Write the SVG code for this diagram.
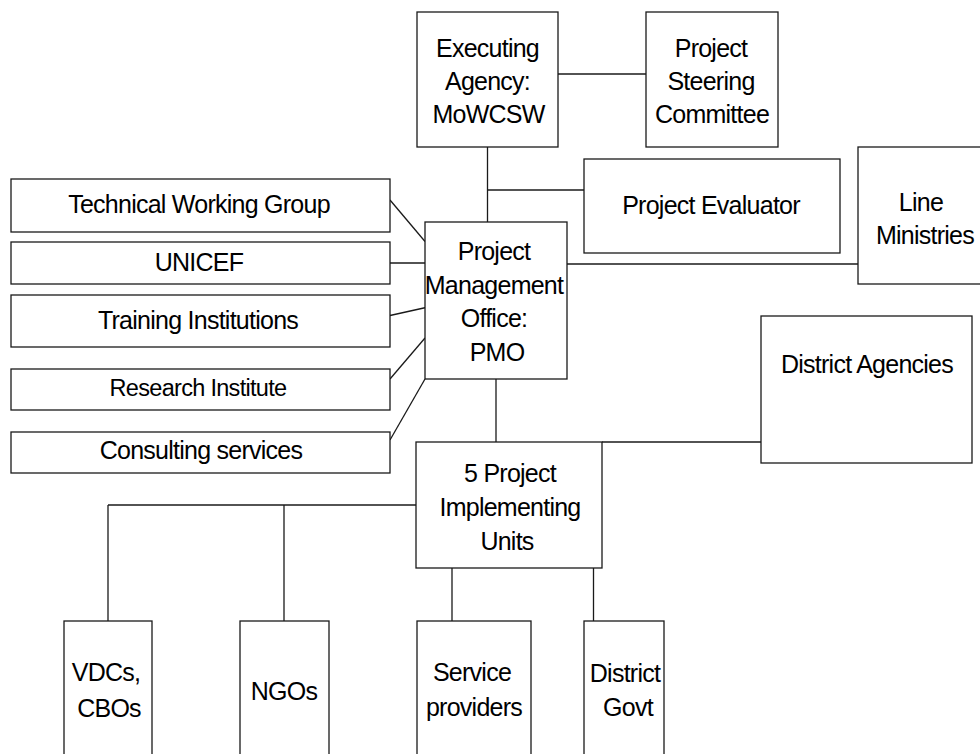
<svg xmlns="http://www.w3.org/2000/svg" width="980" height="754" viewBox="0 0 980 754">
<style>
rect{fill:#fff;stroke:#1a1a1a;stroke-width:1.3}
line{stroke:#1a1a1a;stroke-width:1.3}
text{font-family:"Liberation Sans",Arial,sans-serif;font-size:25px;letter-spacing:-0.75px;fill:#000;text-anchor:middle}
.sm{font-size:23.5px;letter-spacing:-0.7px}
</style>
<rect x="0" y="0" width="980" height="754" style="fill:#fff;stroke:none"/>
<g id="connectors">
<line x1="558" y1="74" x2="646" y2="74"/>
<line x1="487.5" y1="147" x2="487.5" y2="238"/>
<line x1="487.5" y1="190" x2="584" y2="190"/>
<line x1="567" y1="264" x2="858" y2="264"/>
<line x1="390" y1="200" x2="425" y2="241.5"/>
<line x1="390" y1="263" x2="434" y2="263"/>
<line x1="390" y1="315.5" x2="435" y2="305.5"/>
<line x1="390" y1="379" x2="425" y2="338"/>
<line x1="390" y1="440" x2="425" y2="379"/>
<line x1="496" y1="379" x2="496" y2="442"/>
<line x1="602" y1="442" x2="761" y2="442"/>
<line x1="108" y1="505" x2="417" y2="505"/>
<line x1="108" y1="505" x2="108" y2="621"/>
<line x1="284" y1="505" x2="284" y2="621"/>
<line x1="452" y1="568" x2="452" y2="621"/>
<line x1="593.5" y1="568" x2="593.5" y2="621"/>
</g>
<g id="executing-agency">
<rect x="417" y="12" width="141" height="135"/>
<text x="487.5" y="57">Executing</text>
<text x="487.5" y="90">Agency:</text>
<text x="488.5" y="123">MoWCSW</text>
</g>
<g id="steering-committee">
<rect x="646" y="12" width="132" height="135"/>
<text x="711" y="57">Project</text>
<text x="711" y="90">Steering</text>
<text x="712" y="123">Committee</text>
</g>
<g id="project-evaluator">
<rect x="584" y="159" width="256" height="94"/>
<text x="711" y="214">Project Evaluator</text>
</g>
<g id="line-ministries">
<rect x="858" y="147" width="134" height="137"/>
<text x="921" y="211">Line</text>
<text x="925" y="244">Ministries</text>
</g>
<g id="pmo">
<rect x="425" y="222" width="142" height="157"/>
<text x="494" y="260">Project</text>
<text x="494" y="293.5">Management</text>
<text x="494" y="327">Office:</text>
<text x="497" y="360.5">PMO</text>
</g>
<g id="technical-working-group">
<rect x="11" y="179" width="379" height="53"/>
<text x="199" y="213">Technical Working Group</text>
</g>
<g id="unicef">
<rect x="11" y="242" width="379" height="42"/>
<text x="199" y="271">UNICEF</text>
</g>
<g id="training-institutions">
<rect x="11" y="295" width="379" height="52"/>
<text x="198" y="329">Training Institutions</text>
</g>
<g id="research-institute">
<rect x="11" y="369" width="379" height="41"/>
<text class="sm" x="198" y="396">Research Institute</text>
</g>
<g id="consulting-services">
<rect x="11" y="432" width="379" height="41"/>
<text x="201" y="459">Consulting services</text>
</g>
<g id="district-agencies">
<rect x="761" y="316" width="211" height="147"/>
<text x="867" y="373">District Agencies</text>
</g>
<g id="piu">
<rect x="416" y="442" width="186" height="126"/>
<text x="510" y="482">5 Project</text>
<text x="510" y="516">Implementing</text>
<text x="507" y="550">Units</text>
</g>
<g id="vdcs-cbos">
<rect x="64" y="621" width="88" height="160"/>
<text x="106" y="681">VDCs,</text>
<text x="109" y="717">CBOs</text>
</g>
<g id="ngos">
<rect x="240" y="621" width="89" height="160"/>
<text x="284" y="700">NGOs</text>
</g>
<g id="service-providers">
<rect x="417" y="621" width="114" height="160"/>
<text x="472" y="681">Service</text>
<text x="474" y="716">providers</text>
</g>
<g id="district-govt">
<rect x="584" y="621" width="80" height="160"/>
<text x="625" y="682">District</text>
<text x="628" y="716">Govt</text>
</g>
</svg>
